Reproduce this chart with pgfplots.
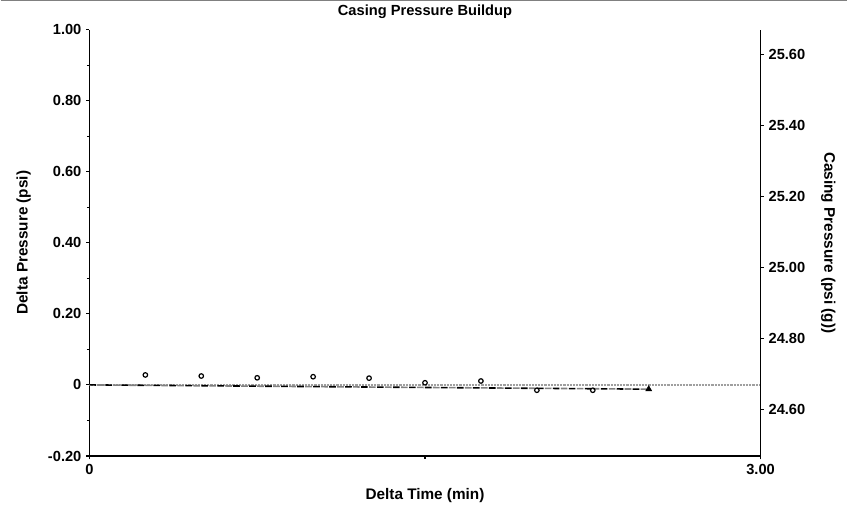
\documentclass[border=0pt]{standalone}
\usepackage{pgfplots}
\pgfplotsset{compat=1.18}
\usepackage{fontspec}
\setmainfont{Liberation Sans}
\begin{document}
\begin{tikzpicture}
% 1 px of the reference = 0.75pt
\pgfplotsset{
  every axis/.append style={
    scale only axis, width=504pt, height=320.25pt,
    at={(0,0)}, anchor=south west,
    tick label style={font=\fontsize{11}{13}\selectfont\bfseries},
    label style={font=\fontsize{11.5}{13}\selectfont\bfseries},
    tick align=outside, major tick length=2.5pt, minor tick length=2pt,
    /pgf/number format/assume math mode=true,
  }
}
\begin{axis}[
    xmin=0, xmax=3, ymin=-0.2, ymax=1.0,
    axis x line*=bottom, axis y line*=left,
    x axis line style={line width=1.5pt, -},
    y axis line style={line width=1.1pt, -},
    xtick={0,3}, xticklabels={0,3.00},
    minor xtick={1.5},
    ytick={-0.2,0,0.2,0.4,0.6,0.8,1.0},
    yticklabels={-0.20,0,0.20,0.40,0.60,0.80,1.00},
    minor ytick={-0.1,0.1,0.3,0.5,0.7,0.9},
    xtick style={black, line width=0.8pt},
    ytick style={black, line width=0.8pt},
    xlabel={Delta Time (min)},
    ylabel={Delta Pressure (psi)},
    xlabel style={yshift=-4pt},
    ylabel style={yshift=6pt},
    title={Casing Pressure Buildup},
    title style={font=\fontsize{11}{13}\selectfont\bfseries, yshift=-1pt},
    clip=false,
  ]
  % zero reference line
  \addplot[gray!75, line width=1.5pt, dash pattern=on 0.6pt off 0.5pt] coordinates {(0,0) (3,0)};
  % trend line (alternating black and grey dashes)
  \addplot[black, line width=1.2pt, dash pattern=on 5pt off 7pt] coordinates {(0,0) (2.5,-0.012)};
  \addplot[gray, line width=1.2pt, dash pattern=on 5pt off 7pt, dash phase=6pt] coordinates {(0,0) (2.5,-0.012)};
  % measured points
  \addplot[only marks, mark=o, mark size=1.7pt, mark options={line width=0.9pt, black}] coordinates {
    (0.25,0.028) (0.50,0.025) (0.75,0.020) (1.00,0.023) (1.25,0.019)
    (1.50,0.006) (1.75,0.011) (2.00,-0.015) (2.25,-0.015)
  };
  \addplot[only marks, mark=triangle*, mark size=2.6pt, black] coordinates {(2.5,-0.012)};
\end{axis}
\begin{axis}[
    xmin=0, xmax=3, ymin=24.470, ymax=25.670,
    axis x line=none, axis y line*=right,
    y axis line style={line width=1.1pt, -},
    ytick={24.6,24.8,25.0,25.2,25.4,25.6},
    yticklabels={24.60,24.80,25.00,25.20,25.40,25.60},
    ytick style={black, line width=0.8pt},
    ylabel={Casing Pressure (psi (g))},
    ylabel style={rotate=180, yshift=5pt},
  ]
  \addplot[draw=none, forget plot] coordinates {(0,24.67) (3,24.67)};
\end{axis}
\draw[gray, line width=0.8pt] (-66.75pt,342pt) -- (569.25pt,342pt);
\useasboundingbox (-66.75pt,-38.25pt) rectangle (569.25pt,342pt);
\end{tikzpicture}
\end{document}
